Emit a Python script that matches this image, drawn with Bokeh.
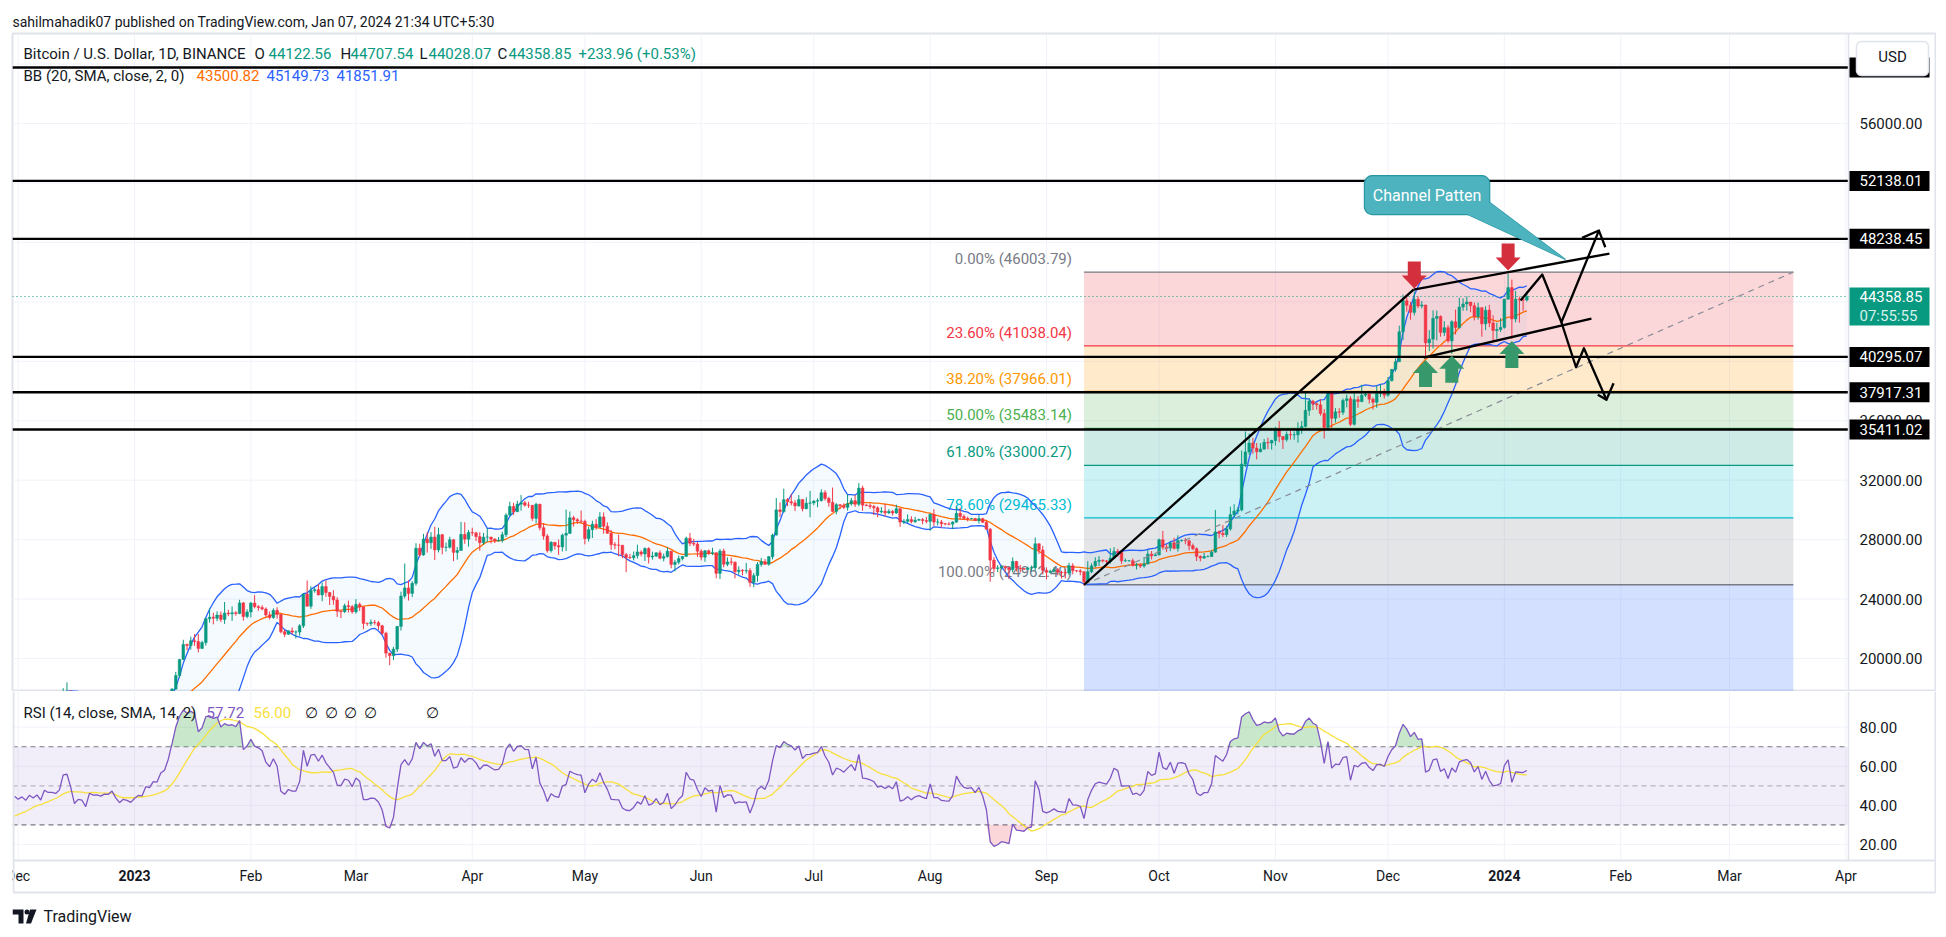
import numpy as np
import pandas as pd
from bokeh.plotting import figure
from bokeh.layouts import column
from bokeh.models import ColumnDataSource, Range1d, Label
from bokeh.core.properties import value
from bokeh.embed import file_html
from bokeh.resources import INLINE

FONT = "Roboto"
INK = "#131722"
UP, DOWN = "#089981", "#f23645"
GRID, BORDER = "#f0f3fa", "#e0e3eb"

# ---------------- daily BTC/USD candles ----------------
FIRST_DAY = "2022-11-01"
FIRST_OPEN = 20490

close_2022_11 = [20480, 20150, 20200, 21150, 21300, 20910, 20590, 18540, 15880, 17590, 17070, 16810, 16330, 16620, 16900, 16660, 16690, 16700, 16700, 16280, 15780, 16230, 16600, 16600, 16520, 16460, 16430, 16210, 16440, 17170]
high_2022_11 = [20700, 20800, 20390, 21300, 21480, 21370, 21050, 20670, 18600, 18140, 17650, 17080, 16950, 17190, 17130, 17000, 16740, 17000, 16820, 16750, 16300, 16290, 16770, 16810, 16610, 16700, 16600, 16480, 16530, 17250]
low_2022_11 = [20330, 20050, 20040, 20180, 21080, 20880, 20400, 17170, 15590, 15750, 16360, 16750, 16220, 15820, 16550, 16440, 16400, 16550, 16550, 16240, 15480, 15620, 16170, 16460, 16330, 16400, 16400, 16000, 16100, 16430]

close_2022_12 = [16980, 17090, 16890, 17110, 16970, 17090, 16840, 17230, 17130, 17130, 17090, 17210, 17780, 17810, 17360, 16630, 16780, 16740, 16440, 16900, 16820, 16830, 16780, 16840, 16830, 16920, 16710, 16550, 16630, 16600, 16540]
high_2022_12 = [17330, 17110, 17160, 17200, 17420, 17100, 17140, 17300, 17360, 17230, 17270, 17240, 18000, 18390, 17850, 17530, 16800, 16870, 16820, 17060, 16910, 16870, 16960, 16870, 16860, 16940, 16970, 16780, 16660, 16640, 16650]
low_2022_12 = [16860, 16790, 16860, 16880, 16870, 16900, 16680, 16730, 17060, 17090, 17070, 16870, 17100, 17660, 17280, 16530, 16590, 16660, 16400, 16400, 16750, 16560, 16750, 16790, 16740, 16790, 16600, 16470, 16490, 16340, 16490]

close_2023_01 = [16620, 16680, 16670, 16850, 16830, 16950, 16940, 17120, 17180, 17440, 17940, 18850, 19930, 20950, 20870, 21190, 21140, 20680, 21070, 22670, 22780, 22710, 22920, 22630, 23060, 23010, 23080, 23030, 23740, 22830, 23130]
high_2023_01 = [16630, 16760, 16780, 16990, 16880, 17040, 16960, 17180, 17400, 17490, 18000, 19100, 19970, 21260, 21000, 21470, 21640, 21650, 21190, 22750, 23370, 23080, 23170, 23160, 23800, 23280, 23500, 23180, 23950, 23800, 23310]
low_2023_01 = [16500, 16550, 16600, 16660, 16750, 16680, 16910, 16910, 17100, 17140, 17320, 17920, 18700, 19890, 20550, 20600, 20850, 20410, 20650, 20870, 22420, 22300, 22510, 22460, 22330, 22850, 22530, 22880, 22980, 22550, 22710]

close_2023_02 = [23730, 23490, 23430, 23330, 22930, 22760, 23240, 22960, 21800, 21630, 21860, 21780, 21780, 22200, 24330, 23520, 24570, 24630, 24280, 24840, 24440, 24180, 23940, 23180, 23150, 23550, 23490, 23140]
high_2023_02 = [23800, 24260, 23590, 23590, 23440, 23160, 23370, 23450, 22990, 21940, 21900, 22090, 21890, 22310, 24380, 25250, 24870, 24770, 25000, 25120, 25250, 24480, 24600, 24130, 23220, 23690, 23890, 23600]
low_2023_02 = [22760, 23370, 23210, 23240, 22760, 22630, 22670, 22680, 21690, 21450, 21600, 21640, 21350, 21530, 22050, 23500, 23340, 24430, 24250, 23850, 24150, 23600, 23620, 22800, 22720, 23070, 23100, 23020]

close_2023_03 = [23640, 23470, 22360, 22350, 22430, 22410, 22200, 21700, 20360, 20190, 20630, 22160, 24200, 24750, 24380, 25060, 27420, 26970, 28040, 27790, 28170, 27310, 28330, 27480, 27490, 27990, 27140, 27270, 28350, 28030, 28480]
high_2023_03 = [23990, 23770, 23480, 22420, 22630, 22600, 22530, 22270, 21800, 20370, 20790, 22180, 24500, 26390, 25250, 25200, 27760, 27720, 28390, 28500, 28500, 28870, 28800, 28380, 27800, 28200, 28040, 27500, 29190, 29170, 28650]
low_2023_03 = [23020, 23200, 21970, 22200, 22190, 22270, 21930, 21580, 20050, 19550, 19890, 20430, 21880, 24050, 23900, 24130, 24900, 26860, 26910, 27130, 27370, 26620, 27140, 27010, 27200, 27400, 26550, 26650, 27240, 27720, 27530]

close_2023_04 = [28450, 28200, 27790, 28170, 28170, 28030, 27910, 27950, 28330, 29650, 30230, 29880, 30390, 30480, 30320, 30310, 29430, 30380, 28800, 28240, 27260, 27820, 27590, 27510, 28300, 28420, 29470, 29340, 29250, 29230]
high_2023_04 = [28800, 28530, 28500, 28450, 28770, 28190, 28100, 28170, 28530, 29770, 30550, 30480, 30620, 31000, 30600, 30550, 30320, 30480, 30410, 29100, 28370, 27890, 27820, 28000, 28400, 30020, 29890, 29600, 29450, 29960]
low_2023_04 = [28250, 27900, 27250, 27660, 27830, 27750, 27770, 27880, 27800, 28180, 29610, 29660, 29870, 29950, 30220, 30130, 29260, 29100, 28620, 28000, 27130, 27130, 27330, 26970, 27200, 27240, 28380, 28880, 29060, 29080]

close_2023_05 = [28070, 28670, 29030, 28840, 29530, 28900, 28430, 27660, 27630, 27620, 26990, 26800, 26780, 26920, 27170, 27030, 27400, 26830, 26890, 27110, 26750, 26850, 27220, 26330, 26480, 26720, 26870, 28090, 27750, 27700, 27220]
high_2023_05 = [29340, 28880, 29270, 29380, 29850, 29830, 29160, 28660, 27830, 28330, 27640, 27100, 27030, 27200, 27660, 27280, 27480, 27490, 27190, 27150, 27270, 27050, 27480, 27220, 26640, 26930, 26890, 28200, 28450, 28050, 27840]
low_2023_05 = [27680, 27870, 28110, 28670, 28800, 28400, 28390, 27320, 27350, 26880, 26750, 25810, 26690, 26600, 26730, 26870, 26560, 26390, 26650, 26820, 26680, 26540, 26800, 26080, 25870, 26340, 26600, 26860, 27560, 27570, 26830]

close_2023_06 = [26820, 27250, 27070, 27120, 25730, 27230, 26340, 26500, 26480, 25850, 25940, 25900, 25920, 25120, 25580, 26330, 26510, 26340, 26850, 28310, 30000, 29890, 30690, 30550, 30470, 30270, 30700, 30080, 30450, 30470]
high_2023_06 = [27350, 27300, 27330, 27450, 27130, 27360, 27390, 26800, 26790, 26530, 26200, 26000, 26430, 26080, 25750, 26480, 26770, 26690, 26890, 28400, 30800, 30500, 31430, 30800, 31040, 30660, 31000, 30710, 30840, 31280]
low_2023_06 = [26600, 26510, 26960, 26960, 25400, 25350, 26130, 26210, 26280, 25400, 25640, 25600, 25720, 24820, 24800, 25170, 26180, 26300, 26250, 26670, 28270, 29530, 29810, 30250, 30300, 29920, 30220, 29900, 30040, 29500]

close_2023_07 = [30590, 30620, 31160, 30770, 30500, 29900, 30350, 30290, 30170, 30410, 30620, 30380, 31470, 30320, 30290, 30230, 30140, 29860, 29910, 29800, 29900, 29790, 30080, 29180, 29230, 29350, 29210, 29310, 29350, 29280, 29230]
high_2023_07 = [30660, 30780, 31380, 31330, 30880, 31500, 30450, 30380, 30440, 31040, 30800, 30990, 31800, 31630, 30390, 30450, 30340, 30240, 30190, 30420, 30050, 30000, 30350, 30100, 29380, 29690, 29570, 29530, 29410, 29450, 29530]
low_2023_07 = [30320, 30180, 30570, 30620, 30220, 29850, 29700, 30050, 30050, 29950, 30290, 30200, 30250, 29940, 30250, 30070, 29660, 29500, 29760, 29560, 29720, 29620, 29740, 28860, 29050, 29100, 29090, 29120, 29260, 29030, 29100]

close_2023_08 = [29700, 29180, 29180, 29070, 29050, 29040, 29180, 29770, 29560, 29430, 29400, 29420, 29280, 29410, 29170, 28700, 26620, 26050, 26100, 26190, 26120, 25990, 26530, 26090, 26050, 26000, 26090, 26110, 27720, 27300, 25930]
high_2023_08 = [29740, 30050, 29410, 29320, 29110, 29170, 29240, 30240, 30140, 29690, 29540, 29470, 29460, 29660, 29470, 29250, 28780, 26830, 26290, 26270, 26250, 26130, 26800, 26570, 26300, 26100, 26180, 26250, 28140, 27760, 27580]
low_2023_08 = [28590, 28930, 28960, 28800, 28960, 28960, 28700, 29120, 29350, 29320, 29230, 29360, 29250, 29080, 29110, 28690, 25170, 25800, 25820, 26000, 25800, 25350, 25800, 25860, 25780, 25970, 25990, 25880, 25920, 27030, 25660]

close_2023_09 = [25800, 25870, 25970, 25810, 25780, 25750, 26240, 25910, 25900, 25840, 25160, 25840, 26230, 26530, 26610, 26570, 26530, 26760, 27210, 27130, 26570, 26580, 26580, 26260, 26300, 26220, 26370, 27030, 26910, 26970]
high_2023_09 = [26130, 25980, 26130, 26090, 25900, 26020, 26440, 26410, 25940, 26030, 25850, 26540, 26400, 26810, 26890, 26670, 26620, 27410, 27490, 27380, 27160, 26730, 26630, 26730, 26430, 26390, 26830, 27310, 27230, 27090]
low_2023_09 = [25330, 25720, 25780, 25600, 25380, 25390, 25600, 25660, 25800, 25600, 24900, 25130, 25750, 26130, 26220, 26470, 26400, 26390, 26680, 26850, 26370, 26500, 26520, 26190, 25990, 26090, 26110, 26320, 26670, 26890]

close_2023_10 = [27990, 27490, 27430, 27790, 27410, 27930, 27960, 27920, 27590, 27390, 26870, 26760, 26860, 26860, 27160, 28520, 28420, 28330, 28720, 29680, 29920, 30000, 33080, 33900, 34500, 34160, 33910, 34090, 34540, 34500, 34670]
high_2023_10 = [28070, 28590, 27670, 27830, 28120, 28290, 28000, 28110, 27990, 27740, 27480, 26940, 27100, 26940, 27290, 30000, 28620, 28980, 28930, 30210, 30380, 30200, 34000, 35280, 35130, 34850, 34500, 34490, 34770, 34860, 34720]
low_2023_10 = [26950, 27320, 27160, 27220, 27340, 27190, 27860, 27690, 27280, 27300, 26560, 26540, 26700, 26810, 26830, 27120, 28100, 28170, 28170, 28600, 29480, 29700, 29900, 32880, 33700, 33780, 33400, 33880, 34060, 34090, 34060]

close_2023_11 = [35440, 34940, 34730, 35080, 35050, 35050, 35420, 35620, 36700, 37320, 37140, 37070, 36490, 35550, 37880, 36160, 36600, 36570, 37360, 37480, 35760, 37420, 37290, 37720, 37800, 37450, 37240, 37830, 37850, 37720]
high_2023_11 = [35590, 35980, 34950, 35280, 35380, 35280, 35900, 35980, 37970, 37530, 37410, 37230, 37440, 36780, 37980, 37930, 36850, 36850, 37500, 37760, 37650, 37860, 37650, 38420, 37890, 37840, 37560, 38380, 38450, 38150]
low_2023_11 = [34330, 34550, 34100, 34600, 34730, 34720, 34520, 35120, 35550, 36330, 36720, 36750, 36340, 34800, 35360, 35500, 35880, 36200, 36390, 36900, 35640, 35670, 36870, 37250, 37600, 37150, 36750, 36870, 37600, 37500]

close_2023_12 = [38690, 39460, 39970, 41990, 44080, 43770, 43290, 44170, 43720, 43790, 41240, 41490, 42890, 43020, 41940, 42260, 41370, 42660, 42270, 43650, 43860, 43990, 43740, 43010, 43610, 42520, 43440, 42580, 42070, 42140, 42280]
high_2023_12 = [38950, 39480, 40200, 42400, 44490, 44300, 44000, 44700, 44370, 44050, 43800, 42100, 43430, 43420, 43090, 42700, 42440, 42760, 43480, 44280, 44240, 44370, 43990, 43950, 43950, 43610, 43700, 43800, 43100, 42600, 42900]
low_2023_12 = [37620, 38650, 39300, 39970, 41420, 43340, 42800, 43090, 43580, 43560, 40220, 40680, 40860, 41400, 41660, 41700, 41250, 40500, 41800, 42200, 43400, 43400, 43300, 42750, 42800, 41650, 42100, 42300, 41300, 41520, 41970]

close_2024_01 = [44180, 44960, 42850, 44180, 44150, 44122.56, 44358.85]
high_2024_01 = [44200, 45900, 45500, 44730, 44350, 44200, 44707.54]
low_2024_01 = [42200, 44150, 41500, 42630, 42600, 43400, 44028.07]

# ---------------- scales / tick labels ----------------
price_ticks = [20000, 24000, 28000, 32000, 36000, 40000, 44000, 48000, 52000, 56000]
price_grid = price_ticks + [60000]
rsi_ticks = [20, 40, 60, 80]

# ---------------- user drawings ----------------
level_prices = [59770, 52138.01, 48238.45, 40295.07, 37917.31, 35411.02]
level_tags = ["59770.00", "52138.01", "48238.45", "40295.07", "37917.31", "35411.02"]
last_price = 44358.85
countdown = "07:55:55"

fib_start, fib_end = "2023-09-11", "2024-03-18"
fib_prices = [46003.79, 41038.04, 37966.01, 35483.14, 33000.27, 29465.33, 24962.40, 11958.82]
fib_names = ["0.00%", "23.60%", "38.20%", "50.00%", "61.80%", "78.60%", "100.00%", "161.80%"]
fib_colors = ["#787b86", "#f23645", "#ff9800", "#4caf50", "#089981", "#00bcd4", "#787b86", "#2962ff"]

# days counted from 2023-01-01
trend_x, trend_y = [253.0, 340.8], [24962.4, 44830]
chan_up_x, chan_up_y = [340.8, 393.0], [44830, 47250]
chan_lo_x, chan_lo_y = [343.5, 388.2], [40253, 42877]
zig_a_x, zig_a_y = [369.3, 375.1, 380.2, 390.2], [44089, 45839, 42628, 48799]
head_a_x, head_a_y = [385.7, 390.2, 391.9], [48308, 48799, 47676]
zig_b_x, zig_b_y = [380.2, 384.1, 386.2, 392.2], [42628, 39600, 40879, 37407]
head_b_x, head_b_y = [389.9, 392.2, 394.1], [37743, 37407, 38524]
red_arrow_days = [341, 366]
green_arrow_days = [344, 351, 367]
callout_box_x, callout_box_y = [327.7, 361.1], [49876, 52501]
callout_tip = (381.3, 46848)
callout_text = "Channel Patten"

# ---------------- assemble ----------------
closes = (close_2022_11 + close_2022_12 + close_2023_01 + close_2023_02 + close_2023_03 + close_2023_04 +
          close_2023_05 + close_2023_06 + close_2023_07 + close_2023_08 + close_2023_09 + close_2023_10 +
          close_2023_11 + close_2023_12 + close_2024_01)
highs = (high_2022_11 + high_2022_12 + high_2023_01 + high_2023_02 + high_2023_03 + high_2023_04 +
         high_2023_05 + high_2023_06 + high_2023_07 + high_2023_08 + high_2023_09 + high_2023_10 +
         high_2023_11 + high_2023_12 + high_2024_01)
lows = (low_2022_11 + low_2022_12 + low_2023_01 + low_2023_02 + low_2023_03 + low_2023_04 +
        low_2023_05 + low_2023_06 + low_2023_07 + low_2023_08 + low_2023_09 + low_2023_10 +
        low_2023_11 + low_2023_12 + low_2024_01)
n = min(len(closes), len(highs), len(lows))
BASE = pd.Timestamp("2023-01-01")
dates = pd.date_range(FIRST_DAY, periods=n, freq="D")
day = np.array((dates - BASE).days, dtype=float)
c = np.array(closes[:n], float)
o = np.concatenate([[FIRST_OPEN], c[:-1]])
h = np.maximum(np.array(highs[:n], float), np.maximum(o, c))
l = np.minimum(np.array(lows[:n], float), np.minimum(o, c))
col = np.where(c >= o, UP, DOWN)

s = pd.Series(c)
basis = s.rolling(20).mean().values
sd = s.rolling(20).std(ddof=0).values
upper, lower = basis + 2 * sd, basis - 2 * sd

delta = np.diff(c)
gain, loss = np.clip(delta, 0, None), np.clip(-delta, 0, None)
rsi = np.full(n, np.nan)
ag, al = gain[:14].mean(), loss[:14].mean()
rsi[14] = 100 - 100 / (1 + ag / al)
for i in range(15, n):
    ag = (ag * 13 + gain[i - 1]) / 14
    al = (al * 13 + loss[i - 1]) / 14
    rsi[i] = 100 - 100 / (1 + ag / al) if al > 0 else 100
rsi_ma = pd.Series(rsi).rolling(14).mean().values

def dnum(d):
    return float((pd.Timestamp(d) - BASE).days)

fx0, fx1 = dnum(fib_start), dnum(fib_end)
month_dates = pd.date_range("2022-12-01", "2024-04-01", freq="MS")
month_days = [float((d - BASE).days) for d in month_dates]

# ---------------- geometry (page pixels) ----------------
LEFT, TOP, PANE_R, BOX_R = 12, 33, 1848, 1936
MAIN_B, RSI_B, TIME_B, PAGE_B = 691, 860, 892, 935
FW = BOX_R - LEFT
FH = MAIN_B - TOP
RH = PAGE_B - MAIN_B
PX_DAY = 3.753
X0 = -32.51
xpp = 1.0 / PX_DAY
X1 = X0 + (PANE_R - LEFT) * xpp
XE = X0 + FW * xpp
Y1 = 62059.0
ypp = 1000.0 / 14.86
Y0 = Y1 - FH * ypp
R1 = 98.26
rpp = 1.0 / 1.955
RB = R1 - RH * rpp
R0 = R1 - (RSI_B - MAIN_B) * rpp

def px2x(px): return X0 + (px - LEFT) * xpp
def px2y(py): return Y1 - (py - TOP) * ypp
def px2r(py): return R1 - (py - MAIN_B) * rpp
def x2px(d): return LEFT + (d - X0) / xpp
def y2px(v): return TOP + (Y1 - v) / ypp

# only the bars that fall inside the visible time window are drawn
vis = day >= np.ceil(X0)
vb = vis & ~np.isnan(basis)
vr = vis & ~np.isnan(rsi)
vm = vis & ~np.isnan(rsi_ma)

def lab(fig, x, y, text, color=INK, size="15px", align="left", baseline="middle", style="normal"):
    fig.add_layout(Label(x=x, y=y, text=text, text_color=color, text_font=FONT, text_font_size=size,
                         text_align=align, text_baseline=baseline, text_font_style=style))

def txt(fig, xs, ys, texts, color=INK, size="15px", align="left", style="normal"):
    fig.text(x=xs, y=ys, text=texts, text_color=color, text_align=align, text_baseline="middle",
             text_font=value(FONT), text_font_size=value(size), text_font_style=style)

def rounded(x0, y0, x1, y1, rr, conv_x, conv_y):
    pts = []
    for cx, cy, a0 in [(x1 - rr, y0 + rr, -90), (x1 - rr, y1 - rr, 0), (x0 + rr, y1 - rr, 90), (x0 + rr, y0 + rr, 180)]:
        for k in range(7):
            a = np.radians(a0 + 90 * k / 6)
            pts.append((cx + rr * np.cos(a), cy + rr * np.sin(a)))
    return [conv_x(a) for a, b in pts], [conv_y(b) for a, b in pts]

# ---------------- main pane ----------------
p = figure(frame_width=FW, frame_height=FH, x_range=Range1d(X0, XE), y_range=Range1d(Y0, Y1),
           x_axis_location=None, y_axis_location=None, output_backend="svg", toolbar_location=None,
           min_border_left=LEFT, min_border_right=0, min_border_top=TOP, min_border_bottom=0)
p.background_fill_color = "white"
p.border_fill_color = "white"
p.outline_line_color = BORDER
p.outline_line_width = 2
p.xgrid.visible = False
p.ygrid.visible = False
p.title.text = "sahilmahadik07 published on TradingView.com, Jan 07, 2024 21:34 UTC+5:30"
p.title.align = "left"
p.title.text_font = FONT
p.title.text_font_size = "14px"
p.title.text_font_style = "normal"
p.title.text_color = INK
p.title.standoff = 8

# grid
mx = [d for d in month_days if X0 < d < X1]
p.segment(x0=mx, x1=mx, y0=[Y0] * len(mx), y1=[Y1] * len(mx), line_color=GRID, line_width=1)
p.segment(x0=[X0] * len(price_grid), x1=[X1] * len(price_grid), y0=price_grid, y1=price_grid,
          line_color=GRID, line_width=1)

# fibonacci fills, lines, labels
fib_src = ColumnDataSource(dict(
    top=fib_prices[:-1], bottom=fib_prices[1:], color=fib_colors[1:],
    left=[fx0] * (len(fib_prices) - 1), right=[fx1] * (len(fib_prices) - 1)))
p.quad(left="left", right="right", top="top", bottom="bottom", fill_color="color", fill_alpha=0.2,
       line_color=None, source=fib_src)
shown = len(fib_prices) - 1
p.segment(x0=[fx0] * shown, x1=[fx1] * shown, y0=fib_prices[:shown], y1=fib_prices[:shown],
          line_color=fib_colors[:shown], line_width=1.3)
p.text(x=[fx0] * shown, y=fib_prices[:shown],
       text=[f"{nm} ({pr:.2f})" for nm, pr in zip(fib_names[:shown], fib_prices[:shown])],
       text_color=fib_colors[:shown], text_align="right", text_baseline="bottom", x_offset=-12, y_offset=-4,
       text_font=value(FONT), text_font_size=value("15px"))

# Bollinger bands
p.varea(x=day[vb], y1=lower[vb], y2=upper[vb], fill_color="#2196f3", fill_alpha=0.05)
p.line(day[vb], upper[vb], line_color="#2962ff", line_width=1.3)
p.line(day[vb], lower[vb], line_color="#2962ff", line_width=1.3)
p.line(day[vb], basis[vb], line_color="#ff6d00", line_width=1.3)

# candles
src = ColumnDataSource(dict(x=day[vis], h=h[vis], l=l[vis], top=np.maximum(o, c)[vis],
                            bottom=np.minimum(o, c)[vis], color=col[vis]))
p.segment(x0="x", y0="h", x1="x", y1="l", line_color="color", line_width=1, source=src)
p.vbar(x="x", width=0.72, top="top", bottom="bottom", fill_color="color", line_color="color",
       line_width=0.5, source=src)

# fib anchor diagonal
p.line([fx0, fx1], [fib_prices[6], fib_prices[0]], line_color="#8a8d97", line_width=1.2, line_dash="6 5")

# horizontal levels and last price line
p.segment(x0=[X0] * len(level_prices), x1=[X1] * len(level_prices), y0=level_prices, y1=level_prices,
          line_color="black", line_width=2.3)
p.line([X0, X1], [last_price, last_price], line_color=UP, line_width=1.2, line_dash="1 3")

# trend / channel / projection
for xs, ys in [(trend_x, trend_y), (chan_up_x, chan_up_y), (chan_lo_x, chan_lo_y),
               (zig_a_x, zig_a_y), (head_a_x, head_a_y), (zig_b_x, zig_b_y), (head_b_x, head_b_y)]:
    p.line(xs, ys, line_color="black", line_width=2.3, line_join="round")

# arrow marks
def arrow_px(d, price, down):
    tx = x2px(d)
    ty = y2px(price) + (-3 if down else 2)
    shape = [(0, 0), (-12.5, 13), (-6.5, 13), (-6.5, 27), (6.5, 27), (6.5, 13), (12.5, 13)]
    xs = [px2x(tx + dx) for dx, dy in shape]
    ys = [px2y(ty - dy) if down else px2y(ty + dy) for dx, dy in shape]
    return xs, ys

def idx(dd):
    return int(np.where(day == dd)[0][0])

rx, ry = zip(*[arrow_px(dd, h[idx(dd)], True) for dd in red_arrow_days])
p.patches(xs=list(rx), ys=list(ry), fill_color="#d32f3c", line_color=None)
gx, gy = zip(*[arrow_px(dd, l[idx(dd)], False) for dd in green_arrow_days])
p.patches(xs=list(gx), ys=list(gy), fill_color="#37996b", line_color=None)

# callout
bx0, bx1 = x2px(callout_box_x[0]), x2px(callout_box_x[1])
by0, by1 = y2px(callout_box_y[1]), y2px(callout_box_y[0])
box_xs, box_ys = rounded(bx0, by0, bx1, by1, 8, px2x, px2y)
tip_px = (x2px(callout_tip[0]), y2px(callout_tip[1]))
tail = [(bx1 - 22, by1), (bx1, by1 - 12), tip_px]
tail_xs = [px2x(a) for a, b in tail]
tail_ys = [px2y(b) for a, b in tail]
CALL_FILL, CALL_LINE = "#4db3bf", "#2796a3"
p.patch(tail_xs, tail_ys, fill_color=CALL_FILL, line_color=CALL_LINE, line_width=1.2)
p.patch(box_xs, box_ys, fill_color=CALL_FILL, line_color=CALL_LINE, line_width=1.2)
p.patch(tail_xs, tail_ys, fill_color=CALL_FILL, line_color=None)
lab(p, px2x((bx0 + bx1) / 2), px2y((by0 + by1) / 2), callout_text, color="white", size="16px", align="center")

# price scale (right)
p.segment(x0=[X1], x1=[X1], y0=[Y0], y1=[Y1], line_color=BORDER, line_width=1.5)
txt(p, [px2x(1859)] * len(price_ticks), price_ticks, [f"{t:.2f}" for t in price_ticks])
p.quad(left=[px2x(1849)] * len(level_prices), right=[px2x(1929)] * len(level_prices),
       top=[pr + 10 * ypp for pr in level_prices], bottom=[pr - 10 * ypp for pr in level_prices],
       fill_color="black", line_color=None)
txt(p, [px2x(1859)] * len(level_prices), level_prices, level_tags, color="white")
p.quad(left=[px2x(1849)], right=[px2x(1929)], top=[last_price + 9 * ypp], bottom=[last_price - 29 * ypp],
       fill_color=UP, line_color=None)
txt(p, [px2x(1859)], [last_price], [f"{last_price:.2f}"], color="white")
txt(p, [px2x(1859)], [last_price - 19 * ypp], [countdown], color="#d5f1ea")
ux, uy = rounded(1856, 41, 1928, 75, 5, px2x, px2y)
p.patch(ux, uy, fill_color="white", line_color=BORDER, line_width=1.5)
txt(p, [px2x(1892)], [px2y(56)], ["USD"], align="center", size="15px")

# legend
ly1, ly2 = px2y(53), px2y(75)
lab(p, px2x(23), ly1, "Bitcoin / U.S. Dollar, 1D, BINANCE")
for letter, lx, val, vx in [("O", 254, "44122.56", 268), ("H", 340, "44707.54", 350),
                            ("L", 419, "44028.07", 428), ("C", 497, "44358.85", 508)]:
    lab(p, px2x(lx), ly1, letter)
    lab(p, px2x(vx), ly1, val, color=UP)
lab(p, px2x(578), ly1, "+233.96 (+0.53%)", color=UP)
lab(p, px2x(23), ly2, "BB (20, SMA, close, 2, 0)")
lab(p, px2x(196), ly2, "43500.82", color="#ff6d00")
lab(p, px2x(266), ly2, "45149.73", color="#2962ff")
lab(p, px2x(336), ly2, "41851.91", color="#2962ff")

# ---------------- RSI pane + time scale + footer ----------------
r = figure(frame_width=FW, frame_height=RH, x_range=p.x_range, y_range=Range1d(RB, R1),
           x_axis_location=None, y_axis_location=None, output_backend="svg", toolbar_location=None,
           min_border_left=LEFT, min_border_right=0, min_border_top=0, min_border_bottom=0)
r.background_fill_color = "white"
r.border_fill_color = "white"
r.outline_line_color = None
r.xgrid.visible = False
r.ygrid.visible = False

r.segment(x0=mx, x1=mx, y0=[R0] * len(mx), y1=[R1] * len(mx), line_color=GRID, line_width=1)
r.segment(x0=[X0] * len(rsi_ticks), x1=[X1] * len(rsi_ticks), y0=rsi_ticks, y1=rsi_ticks,
          line_color=GRID, line_width=1)
r.quad(left=[X0], right=[X1], bottom=[30], top=[70], fill_color="#7e57c2", fill_alpha=0.1, line_color=None)
r.segment(x0=[X0, X0], x1=[X1, X1], y0=[70, 30], y1=[70, 30], line_color="#787b86", line_dash="5 4", line_width=1.2)
r.segment(x0=[X0], x1=[X1], y0=[50], y1=[50], line_color="#787b86", line_alpha=0.5, line_dash="5 4", line_width=1.2)
r.varea(x=day[vr], y1=np.full(vr.sum(), 70.0), y2=np.maximum(rsi[vr], 70), fill_color="#4caf50", fill_alpha=0.3)
r.varea(x=day[vr], y1=np.minimum(rsi[vr], 30), y2=np.full(vr.sum(), 30.0), fill_color="#f23645", fill_alpha=0.2)
r.line(day[vm], rsi_ma[vm], line_color="#f7e03c", line_width=1.3)
r.line(day[vr], rsi[vr], line_color="#7e57c2", line_width=1.3)

# RSI scale
r.segment(x0=[X1], x1=[X1], y0=[R0], y1=[R1], line_color=BORDER, line_width=1.5)
txt(r, [px2x(1859)] * len(rsi_ticks), rsi_ticks, [f"{t:.2f}" for t in rsi_ticks])

# time scale
ty = px2r(875)
reg = [(d, m.strftime("%b")) for d, m in zip(month_days, month_dates) if m.month != 1]
yrs = [(d, m.strftime("%Y")) for d, m in zip(month_days, month_dates) if m.month == 1]
txt(r, [d for d, t in reg], [ty] * len(reg), [t for d, t in reg], align="center", size="14px")
txt(r, [d for d, t in yrs], [ty] * len(yrs), [t for d, t in yrs], align="center", size="14px", style="bold")

# chart box border
bl, br = px2x(LEFT + 1), px2x(BOX_R - 1)
r.segment(x0=[bl, br, bl, bl], x1=[bl, br, br, br], y0=[R1, R1, px2r(TIME_B), R0],
          y1=[px2r(TIME_B), px2r(TIME_B), px2r(TIME_B), R0], line_color=BORDER, line_width=2)

# RSI legend
ry0 = px2r(712)
lab(r, px2x(23), ry0, "RSI (14, close, SMA, 14, 2)")
lab(r, px2x(206), ry0, "57.72", color="#7e57c2")
lab(r, px2x(253), ry0, "56.00", color="#f7e03c")
for xx in [304, 324, 343, 363, 425]:
    lab(r, px2x(xx), ry0, "\u2205")

# footer logo
logo_bar = [(12, 909), (23, 909), (23, 923), (18, 923), (18, 914), (12, 914)]
r.patch([px2x(a) for a, b in logo_bar], [px2r(b) for a, b in logo_bar], fill_color=INK, line_color=None)
r.scatter([px2x(26.5)], [px2r(911.5)], size=5, fill_color=INK, line_color=None)
logo_v = [(29.5, 909), (36, 909), (30.5, 923), (25.5, 923)]
r.patch([px2x(a) for a, b in logo_v], [px2r(b) for a, b in logo_v], fill_color=INK, line_color=None)
txt(r, [px2x(43)], [px2r(916)], ["TradingView"], size="16px")

layout = column(p, r, spacing=0)
open("out.html", "w").write(file_html(layout, INLINE))
